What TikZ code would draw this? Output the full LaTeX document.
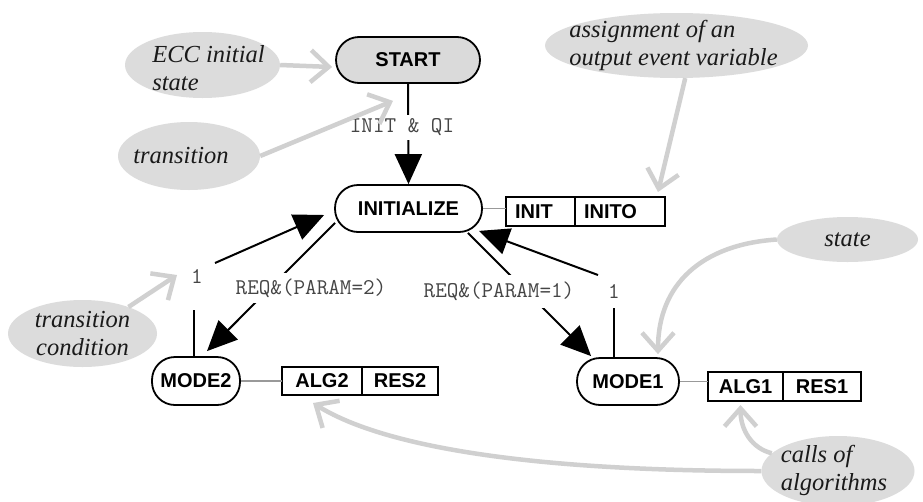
\documentclass[tikz,border=0pt]{standalone}
\usepackage{fontspec}
\setmainfont{Liberation Serif}
\setsansfont{Liberation Sans}
\usetikzlibrary{arrows.meta,calc,shapes.geometric}

\definecolor{notefill}{HTML}{DCDCDC}
\definecolor{notearrow}{HTML}{D0D0D0}
\definecolor{startfill}{HTML}{DADADA}
\definecolor{condtext}{HTML}{454545}
\definecolor{linkgray}{HTML}{999999}
\definecolor{notetextcol}{HTML}{1A1A1A}

\begin{document}
\begin{tikzpicture}[x=1pt,y=-1pt,
  ecstate/.style={draw=black, line width=1.8pt, rounded corners=23pt,
    minimum height=47pt, inner sep=0pt,
    font=\sffamily\bfseries\fontsize{20}{22}\selectfont},
  cell/.style={draw=black, line width=1.6pt, outer sep=0pt, inner sep=0pt,
    anchor=west, font=\sffamily\bfseries\fontsize{20}{22}\selectfont},
  cond/.style={inner xsep=2pt, inner ysep=0pt, text=condtext,
    font=\ttfamily\fontsize{22.5}{22.5}\selectfont},
  condcut/.style={cond, fill=white},
  trans/.style={draw=black, line width=2pt, -{Triangle[length=30pt,width=27pt]}},
  plainline/.style={draw=black, line width=2pt},
  link/.style={draw=linkgray, line width=1.5pt},
  note/.style={ellipse, fill=notefill, draw=none, inner sep=0pt},
  notetext/.style={text=notetextcol, inner sep=0pt,
    font=\itshape\fontsize{24.5}{28}\selectfont},
  notearr/.style={draw=notearrow, line width=4.5pt,
    -{Straight Barb[length=18pt,width=32pt]}}
]
% page
\fill[white] (0,0) rectangle (923,501);
\useasboundingbox (0,0) rectangle (923,501);

% annotation bubbles
\node[note, minimum width=155pt, minimum height=66pt] (ecc) at (202.5,65) {};
\node[notetext, align=left] (ecc-text) at ($(ecc)+(6,3)$) {ECC initial\\state};
\node[note, minimum width=142pt, minimum height=68pt] (trn) at (189,156) {};
\node[notetext] (trn-text) at ($(trn)+(-8,0)$) {transition};
\node[note, minimum width=263pt, minimum height=65pt] (asg) at (676.5,45.5) {};
\node[notetext, align=left] (asg-text) at ($(asg)+(-3,0)$) {assignment of an\\output event variable};
\node[note, minimum width=149pt, minimum height=67pt] (tcond) at (82.5,333.5) {};
\node[notetext, align=center] (tcond-text) at (tcond) {transition\\condition};
\node[note, minimum width=141pt, minimum height=45pt] (st) at (847.5,239.5) {};
\node[notetext] (st-text) at (st) {state};
\node[note, minimum width=153pt, minimum height=70pt] (calls) at (838,471) {};
\node[notetext, align=left] (calls-text) at ($(calls)+(-4,-1)$) {calls of\\algorithms};

% states
\node[ecstate, fill=startfill, minimum width=144pt, minimum height=46pt] (start) at (408,60) {START};
\node[ecstate, minimum width=147pt] (init) at (408.5,208.5) {INITIALIZE};
\node[ecstate, minimum width=88pt, minimum height=48pt] (mode2) at (196,381) {MODE2};
\node[ecstate, minimum width=102pt] (mode1) at (628,381.5) {MODE1};

% action blocks
\node[cell, minimum height=29pt, text width=51pt, inner xsep=9pt, align=left] (initA) at (506,211.5) {INIT};
\node[cell, minimum height=29pt, text width=72pt, inner xsep=9pt, align=left] (initB) at (initA.east) {INITO};
\node[cell, minimum height=28pt, minimum width=80pt] (alg2) at (282,381) {ALG2};
\node[cell, minimum height=28pt, minimum width=76pt] (res2) at (alg2.east) {RES2};
\node[cell, minimum height=29pt, minimum width=75pt] (alg1) at (708,386.5) {ALG1};
\node[cell, minimum height=29pt, minimum width=78pt] (res1) at (alg1.east) {RES1};

% state-to-action links
\draw[link] (init.east) -- (init.east -| initA.west);
\draw[link] (mode2.east) -- (mode2.east -| alg2.west);
\draw[link] (mode1.east) -- (mode1.east -| alg1.west);

% transition condition labels that sit on a bend
\node[cond] (l2) at (197,276) {1};
\node[cond] (l1) at (614,291) {1};

% bend points of the unconditional transitions
\coordinate (v2) at (194,310);
\coordinate (b2) at (215,263);
\coordinate (v1) at (614,308);
\coordinate (b1) at (598,275);

% transitions
\draw[trans] (start.south) -- (init.north);
\draw[trans] ($(init.south west)+(1,-10)$) -- ($(mode2.north)+(11,-5)$);
\draw[trans] ($(init.south east)+(-15,0)$) -- ($(mode1.north west)+(15,-1)$);
\draw[plainline] (mode2.north -| v2) -- (v2);
\draw[trans] (b2) -- ($(init.west)+(-10,6.5)$);
\draw[plainline] (mode1.north -| v1) -- (v1);
\draw[trans] (b1) -- ($(init.south east)+(-4,-2)$);

% conditions written across their transitions
\node[condcut, minimum height=25pt] (lq) at (402,127.5) {INIT \& QI};
\node[condcut, minimum height=30pt] (lp2) at (311,288) {REQ\&(PARAM=2)};
\node[condcut, minimum height=33pt] (lp1) at (499,291.5) {REQ\&(PARAM=1)};

% annotation pointers
\draw[notearr] (ecc.east) -- ($(start.west)+(-3,7)$);
\draw[notearr] (trn.east) -- ($(start.south)+(-15,17)$);
\draw[notearr] (asg.-75) -- ($(initB.north east)+(-7,-5)$);
\draw[notearr] (tcond.30) -- ($(l2)+(-20,-1)$);
\draw[notearr] (st.west) .. controls +(-75,5) and +(0,-70) .. ($(mode1.north)+(30,-3)$);
\draw[notearr] (calls.165) .. controls +(-20,-5) and +(0,25) .. ($(alg1.south)+(-5,4)$);
\draw[notearr] (calls.west) .. controls +(-240,0) and +(67,42) .. ($(alg2.south)+(-9,8)$);
\end{tikzpicture}
\end{document}
